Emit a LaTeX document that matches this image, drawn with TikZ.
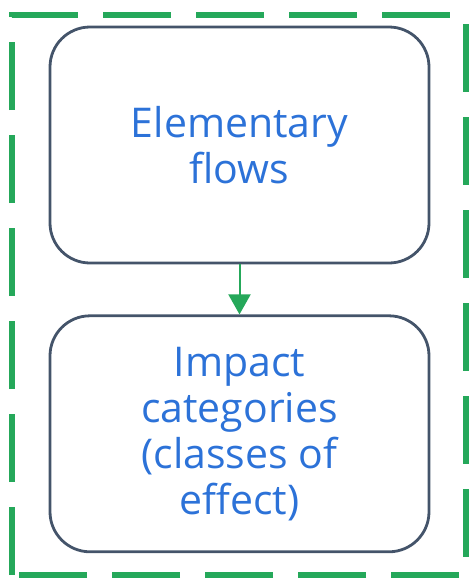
\documentclass[tikz,border=0pt]{standalone}
\usepackage{fontspec}
\setmainfont{Open Sans}
\usepackage{tikz}
\usetikzlibrary{positioning, arrows.meta}
\definecolor{flowgreen}{HTML}{25A85A}
\definecolor{boxline}{HTML}{44546A}
\definecolor{textblue}{HTML}{2C72D8}

\begin{document}
\begin{tikzpicture}[
  x=1pt, y=-1pt,
  font=\fontsize{41}{46}\selectfont,
  box/.style={draw=boxline, line width=2.8pt, rounded corners=40pt, minimum width=379pt, minimum height=236pt, align=center, text=textblue},
  arr/.style={-{Triangle[length=20pt, width=22pt]}, draw=flowgreen, fill=flowgreen, line width=2pt},
  frame/.style={draw=flowgreen, line width=6.5pt, dash pattern=on 68pt off 25pt},
]
  \useasboundingbox (0,0) rectangle (470,579);
  \draw[frame] (12,575) -- (12,15) -- (466,15) -- (466,575) -- cycle;
  \node[box] (flows) at (239.5,145) {Elementary\\flows};
  \node[box, below=50pt of flows] (impact) {Impact\\categories\\(classes of\\effect)};
  \draw[arr] (flows) -- (impact);
\end{tikzpicture}
\end{document}
